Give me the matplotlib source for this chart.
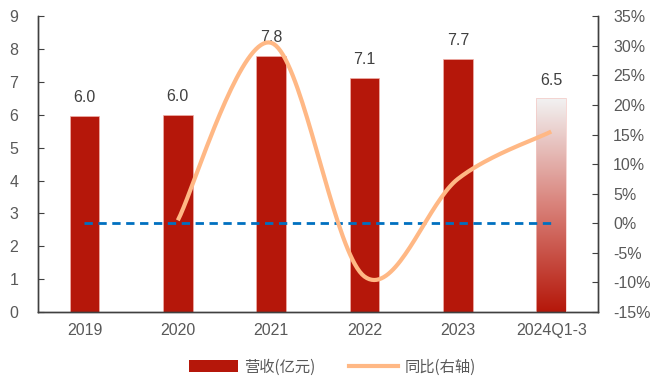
import numpy as np
import matplotlib
matplotlib.use("Agg")
import matplotlib.pyplot as plt
from matplotlib.lines import Line2D
from matplotlib.patches import Patch
from matplotlib.colors import LinearSegmentedColormap

plt.rcParams['font.family'] = ['Liberation Sans', 'Noto Sans CJK SC', 'DejaVu Sans']

categories = ['2019', '2020', '2021', '2022', '2023', '2024Q1-3']
revenue = [5.97, 6.0, 7.8, 7.13, 7.7, 6.5]
revenue_labels = ['6.0', '6.0', '7.8', '7.1', '7.7', '6.5']
yoy = [None, 0.5, 30.5, -9.0, 7.5, 15.5]  # percent

bar_color = '#B5170A'
line_color = '#FFB885'
text_color = '#595959'

fig = plt.figure(figsize=(6.52, 3.76), dpi=100)
ax = fig.add_axes([0.058, 0.17, 0.859, 0.787])
ax2 = ax.twinx()

x = np.arange(len(categories))
w = 0.32
ax.bar(x[:-1], revenue[:-1], width=w, color=bar_color, edgecolor='#F0B0A8', linewidth=0.5, zorder=2)
last = ax.bar(x[-1], revenue[-1], width=w, color='none', edgecolor='#F4C8C4', linewidth=0.5, zorder=3)
grad = np.linspace(0, 1, 256).reshape(-1, 1)
cmap = LinearSegmentedColormap.from_list('g', [bar_color, '#D9827A', '#F2F2F2'])
im = ax.imshow(grad, cmap=cmap, aspect='auto', origin='lower',
               extent=[x[-1] - w / 2, x[-1] + w / 2, 0, revenue[-1]], zorder=2)
im.set_clip_path(last[0])

for xi, v, lab in zip(x, revenue, revenue_labels):
    ax.text(xi, v + 0.33, lab, ha='center', va='bottom', fontsize=11.5, color='#404040')

ax.set_xlim(-0.5, len(categories) - 0.5)
ax.set_ylim(0, 9)
ax.set_yticks(range(0, 10))
ax2.set_ylim(-15, 35)
ax2.set_yticks(range(-15, 40, 5))
ax2.set_yticklabels([f'{t}%' for t in range(-15, 40, 5)])

# zero reference line
ax2.plot([x[0], x[-1]], [0, 0], color='#0070C0', lw=2, ls=(0, (3, 2)), zorder=4)

# smoothed yoy line (Catmull-Rom through data points)
px = np.array([xi for xi, v in zip(x, yoy) if v is not None], dtype=float)
py = np.array([v for v in yoy if v is not None], dtype=float)
P = np.column_stack([px, py])
pts = []
n = len(P)
for i in range(n - 1):
    p0 = P[i - 1] if i > 0 else P[i]
    p1 = P[i]
    p2 = P[i + 1]
    p3 = P[i + 2] if i + 2 < n else P[i + 1]
    c1 = p1 + (p2 - p0) / 6
    c2 = p2 - (p3 - p1) / 6
    t = np.linspace(0, 1, 40)[:, None]
    seg = (1 - t) ** 3 * p1 + 3 * (1 - t) ** 2 * t * c1 + 3 * (1 - t) * t ** 2 * c2 + t ** 3 * p2
    pts.append(seg)
curve = np.vstack(pts)
ax2.plot(curve[:, 0], curve[:, 1], color=line_color, lw=3, solid_capstyle='butt', zorder=5)

for a in (ax, ax2):
    a.spines['top'].set_visible(False)
    for s in ('left', 'right', 'bottom'):
        a.spines[s].set_color('#404040')
        a.spines[s].set_linewidth(1.0)
ax.tick_params(axis='y', direction='in', length=4, pad=14, colors='#404040', labelcolor=text_color, labelsize=11.5)
ax2.tick_params(axis='y', direction='in', length=4, pad=11, colors='#404040', labelcolor=text_color, labelsize=11.5)
ax.tick_params(axis='x', length=0, labelcolor=text_color, labelsize=11.5, pad=8)
ax.set_xticks(x)
ax.set_xticklabels(categories)

handles = [Patch(facecolor=bar_color, edgecolor='none'),
           Line2D([0], [0], color=line_color, lw=3)]
leg = fig.legend(handles, ['营收(亿元)', '同比(右轴)'], loc='lower center', ncol=2,
                 bbox_to_anchor=(0.51, -0.035), frameon=False,
                 handlelength=3.2, handleheight=0.9, columnspacing=2.2, handletextpad=0.4,
                 prop={'family': ['Noto Sans CJK SC'], 'size': 11})
for t in leg.get_texts():
    t.set_color(text_color)

fig.savefig('out.png', dpi=100)
